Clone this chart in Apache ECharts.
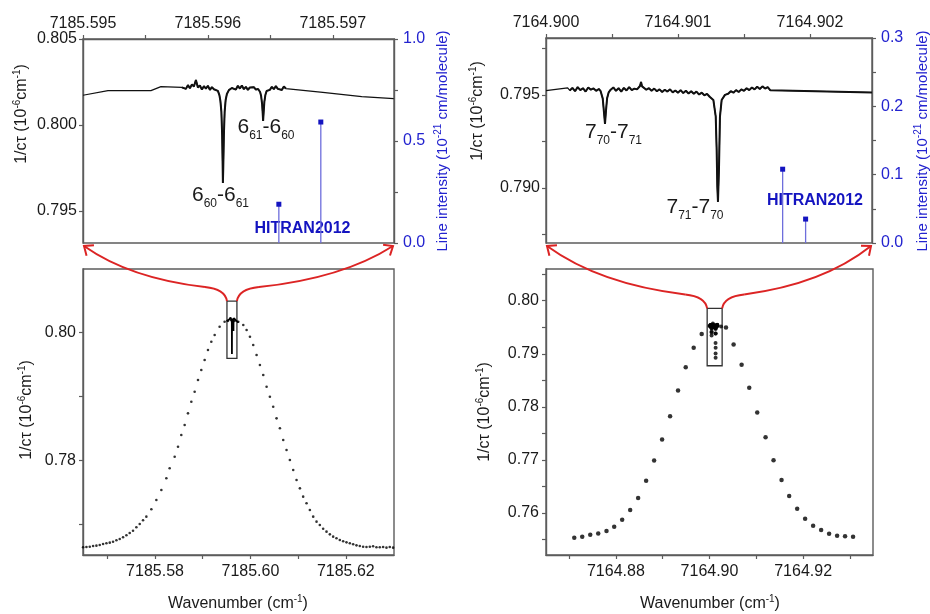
<!DOCTYPE html>
<html><head><meta charset="utf-8">
<script src="https://cdn.jsdelivr.net/npm/echarts@6/dist/echarts.min.js"></script>
<style>html,body{margin:0;padding:0;background:#fff}#c{width:930px;height:614px}</style>
</head><body><div id="c"></div>
<script>
const FONT = '"Liberation Sans", Arial, Helvetica, sans-serif';
const INK = '#111111', FRAME = '#5c5c5c', BLUE = '#2323cf', STICK = '#6e6edc', MARK = '#1414c0', RED = '#dc2424';

// ---------- top-left zoom (7185.596 region) ----------
const tlWave = [7185.595000, 7185.595200, 7185.595544, 7185.595624,
 7185.595792, 7185.595808, 7185.595824, 7185.595840, 7185.595856, 7185.595872, 7185.595888, 7185.595904, 7185.595920, 7185.595936, 7185.595952, 7185.595968, 7185.595984, 7185.596000, 7185.596016, 7185.596032, 7185.596048,
 7185.596056, 7185.596080, 7185.596092, 7185.596100, 7185.596108, 7185.596114, 7185.596118, 7185.596120, 7185.596123, 7185.596128, 7185.596134, 7185.596142, 7185.596152, 7185.596168, 7185.596192,
 7185.596208, 7185.596224, 7185.596240, 7185.596256, 7185.596272, 7185.596288, 7185.596304, 7185.596320, 7185.596336, 7185.596352, 7185.596368, 7185.596384,
 7185.596402, 7185.596418, 7185.596426, 7185.596434, 7185.596439, 7185.596442, 7185.596446, 7185.596452, 7185.596460, 7185.596470, 7185.596482,
 7185.596496, 7185.596512, 7185.596528, 7185.596544, 7185.596560, 7185.596576, 7185.596592, 7185.596608, 7185.596624,
 7185.596920, 7185.597232, 7185.597488];
const tlSignal = [0.80173, 0.80200, 0.80200, 0.80223,
 0.80219, 0.80228, 0.80210, 0.80232, 0.80214, 0.80236, 0.80224, 0.80262, 0.80218, 0.80230, 0.80206, 0.80226, 0.80212, 0.80228, 0.80204, 0.80220, 0.80208,
 0.80215, 0.80198, 0.80174, 0.80140, 0.80076, 0.79942, 0.79767, 0.79663, 0.79750, 0.79942, 0.80076, 0.80145, 0.80180, 0.80203, 0.80215,
 0.80224, 0.80206, 0.80228, 0.80212, 0.80230, 0.80208, 0.80222, 0.80204, 0.80218, 0.80210, 0.80220, 0.80206,
 0.80209, 0.80192, 0.80169, 0.80122, 0.80064, 0.80023, 0.80070, 0.80134, 0.80174, 0.80198, 0.80209,
 0.80204, 0.80222, 0.80208, 0.80226, 0.80210, 0.80220, 0.80204, 0.80224, 0.80212,
 0.80190, 0.80165, 0.80153];
const tlNoisy = [4, 68];   // index range of the high-resolution (noisy) scan
const tlHitranWave = [7185.596568, 7185.596904];
const tlHitranInt = [0.19, 0.593];

// ---------- top-right zoom (7164.901 region) ----------
const trWave = [7164.900000, 7164.900164,
 7164.90018, 7164.90020, 7164.90022, 7164.90024, 7164.90026, 7164.90028, 7164.90030, 7164.90032, 7164.90034, 7164.90036, 7164.90038, 7164.90040,
 7164.900414, 7164.900430, 7164.900440, 7164.900447, 7164.900455, 7164.900463, 7164.900475,
 7164.90049, 7164.90051, 7164.90053, 7164.90055, 7164.90057, 7164.90059, 7164.90061, 7164.90063, 7164.90065, 7164.90067, 7164.90069,
 7164.900712, 7164.900720, 7164.900728,
 7164.90074, 7164.90076, 7164.90078, 7164.90080, 7164.90082, 7164.90084, 7164.90086, 7164.90088, 7164.90090, 7164.90092, 7164.90094, 7164.90096, 7164.90098, 7164.90100, 7164.90102, 7164.90104, 7164.90106, 7164.90108, 7164.90110, 7164.90112, 7164.90114, 7164.90116, 7164.90118, 7164.90120, 7164.90122, 7164.90124,
 7164.901255, 7164.901268, 7164.901286, 7164.901293, 7164.901298, 7164.901303, 7164.901311, 7164.901318, 7164.901331, 7164.901356,
 7164.90138, 7164.90140, 7164.90142, 7164.90144, 7164.90146, 7164.90148, 7164.90150, 7164.90152, 7164.90154, 7164.90156, 7164.90158, 7164.90160, 7164.90162, 7164.90164, 7164.90166, 7164.90168,
 7164.90170, 7164.90247];
const trSignal = [0.79523, 0.79538,
 0.79524, 0.79538, 0.79520, 0.79542, 0.79526, 0.79536, 0.79518, 0.79540, 0.79528, 0.79535, 0.79522, 0.79532,
 0.79520, 0.79480, 0.79400, 0.79344, 0.79420, 0.79482, 0.79514,
 0.79528, 0.79540, 0.79522, 0.79536, 0.79518, 0.79538, 0.79524, 0.79542, 0.79526, 0.79534, 0.79530,
 0.79548, 0.79570, 0.79546,
 0.79540, 0.79528, 0.79536, 0.79522, 0.79534, 0.79520, 0.79530, 0.79516, 0.79528, 0.79518, 0.79530, 0.79514, 0.79524, 0.79512, 0.79526, 0.79510, 0.79522, 0.79508, 0.79520, 0.79506, 0.79518, 0.79502, 0.79512, 0.79498, 0.79506, 0.79490,
 0.79488, 0.79473, 0.79383, 0.79204, 0.79007, 0.78925, 0.79115, 0.79383, 0.79473, 0.79500,
 0.79506, 0.79520, 0.79512, 0.79526, 0.79516, 0.79530, 0.79522, 0.79536, 0.79526, 0.79540, 0.79530, 0.79544, 0.79532, 0.79546, 0.79534, 0.79542,
 0.79525, 0.79513];
const trNoisy = [2, 101];
const trHitranWave = [7164.901793, 7164.901967];
const trHitranInt = [0.108, 0.035];

// ---------- bottom-left full mode (7185.60) ----------
const blWave = [7185.56492, 7185.56562, 7185.56632, 7185.56702, 7185.56771, 7185.56841, 7185.56911, 7185.56981, 7185.57051, 7185.57120,
 7185.57190, 7185.57260, 7185.57330, 7185.57400, 7185.57469, 7185.57539, 7185.57609, 7185.57679, 7185.57749, 7185.57818,
 7185.57923, 7185.58028, 7185.58133, 7185.58237, 7185.58307, 7185.58412, 7185.58482, 7185.58551, 7185.58621, 7185.58691,
 7185.58761, 7185.58831, 7185.58901, 7185.58970, 7185.59040, 7185.59110, 7185.59180, 7185.59250, 7185.59354, 7185.59459,
 7185.59530, 7185.59600, 7185.59670, 7185.59745, 7185.59850, 7185.59920, 7185.59990, 7185.60059, 7185.60129, 7185.60199,
 7185.60269, 7185.60339, 7185.60408, 7185.60478, 7185.60548, 7185.60618, 7185.60688, 7185.60757, 7185.60827, 7185.60897,
 7185.60967, 7185.61037, 7185.61106, 7185.61176, 7185.61246, 7185.61316, 7185.61386, 7185.61455, 7185.61525, 7185.61595,
 7185.61665, 7185.61735, 7185.61804, 7185.61874, 7185.61944, 7185.62014, 7185.62084, 7185.62154, 7185.62223, 7185.62293,
 7185.62363, 7185.62433, 7185.62503, 7185.62572, 7185.62642, 7185.62712, 7185.62782, 7185.62852, 7185.62921, 7185.62991];
const blSignal = [0.76641, 0.76645, 0.76650, 0.76661, 0.76666, 0.76677, 0.76692, 0.76703, 0.76713, 0.76728,
 0.76750, 0.76770, 0.76797, 0.76828, 0.76864, 0.76900, 0.76953, 0.77005, 0.77062, 0.77119,
 0.77234, 0.77380, 0.77536, 0.77719, 0.77875, 0.78056, 0.78213, 0.78395, 0.78552, 0.78734,
 0.78916, 0.79072, 0.79255, 0.79411, 0.79567, 0.79723, 0.79853, 0.79958, 0.80088, 0.80166,
 0.80180, 0.80190, 0.80180, 0.80166, 0.80114, 0.80036, 0.79932, 0.79802, 0.79645, 0.79489,
 0.79333, 0.79150, 0.78994, 0.78838, 0.78656, 0.78500, 0.78317, 0.78161, 0.78005, 0.77848,
 0.77692, 0.77562, 0.77432, 0.77328, 0.77223, 0.77119, 0.77041, 0.76989, 0.76930, 0.76885,
 0.76843, 0.76807, 0.76781, 0.76755, 0.76734, 0.76718, 0.76703, 0.76687, 0.76671, 0.76661,
 0.76650, 0.76645, 0.76650, 0.76656, 0.76640, 0.76640, 0.76645, 0.76635, 0.76645, 0.76635];

// ---------- bottom-right full mode (7164.90) ----------
const brWave = [7164.87111, 7164.87281, 7164.87452, 7164.87623, 7164.87800, 7164.87964, 7164.88134, 7164.88305, 7164.88475, 7164.88646,
 7164.88817, 7164.88987, 7164.89158, 7164.89328, 7164.89492, 7164.89662, 7164.89833,
 7164.90352, 7164.90515, 7164.90686, 7164.90849, 7164.91020, 7164.91198, 7164.91368, 7164.91539, 7164.91702,
 7164.91873, 7164.92043, 7164.92214, 7164.92385, 7164.92555, 7164.92726, 7164.92896, 7164.93067];
const brSignal = [0.75535, 0.75553, 0.75591, 0.75616, 0.75660, 0.75742, 0.75874, 0.76057, 0.76283, 0.76610,
 0.76987, 0.77384, 0.77824, 0.78308, 0.78748, 0.79113, 0.79371,
 0.79497, 0.79176, 0.78792, 0.78358, 0.77893, 0.77428, 0.76994, 0.76623, 0.76321,
 0.76082, 0.75893, 0.75761, 0.75679, 0.75610, 0.75572, 0.75560, 0.75553];

// ---------- axis ranges and ticks ----------
const tlXRange = [7185.595, 7185.59749], tlYRange = [0.79314, 0.805], tlIntRange = [0, 1];
const trXRange = [7164.900, 7164.90247], trYRange = [0.78704, 0.79806], trIntRange = [0, 0.3];
const blXRange = [7185.5649, 7185.6301], blYRange = [0.7652, 0.8099];
const brXRange = [7164.86507, 7164.93493], brYRange = [0.75209, 0.80597];

const tlXTicks = [7185.595, 7185.596, 7185.597], tlXMinor = [7185.5955, 7185.5965];
const tlYTicks = [0.795, 0.800, 0.805];
const tlIntTicks = [0, 0.5, 1.0], tlIntMinor = [0.25, 0.75];
const trXTicks = [7164.900, 7164.901, 7164.902], trXMinor = [7164.9005, 7164.9015];
const trYTicks = [0.790, 0.795], trYMinor = [0.7875, 0.7925, 0.7975];
const trIntTicks = [0, 0.1, 0.2, 0.3], trIntMinor = [0.05, 0.15, 0.25];
const blXTicks = [7185.58, 7185.60, 7185.62], blXMinor = [7185.57, 7185.59, 7185.61];
const blYTicks = [0.78, 0.80], blYMinor = [0.77, 0.79];
const brXTicks = [7164.88, 7164.90, 7164.92], brXMinor = [7164.87, 7164.89, 7164.91, 7164.93];
const brYTicks = [0.76, 0.77, 0.78, 0.79, 0.80], brYMinor = [0.755, 0.765, 0.775, 0.785, 0.795, 0.805];

// zoom boxes drawn in the full-mode panels (data coordinates)
const blBoxX = [7185.59508, 7185.59717], blBoxY = [0.79594, 0.80489];
const brBoxX = [7164.8995, 7164.9027], brBoxY = [0.78774, 0.79855];

// ---------- layout ----------
const G = [
  {left: 83, top: 39, width: 311, height: 204},
  {left: 546, top: 38, width: 326, height: 205},
  {left: 83, top: 269, width: 311, height: 286},
  {left: 546, top: 269, width: 327, height: 286}
];

const zip = (a, b) => a.slice(0, Math.min(a.length, b.length)).map((v, i) => [v, b[i]]);

function valueAxis(o) {
  return {
    type: 'value', gridIndex: o.grid, position: o.pos, min: o.range[0], max: o.range[1],
    axisLine: {show: true, onZero: false, lineStyle: {color: FRAME, width: 1.4}},
    axisTick: {show: true, inside: false, length: 4, customValues: o.major.concat(o.minor || []), lineStyle: {color: FRAME, width: 1.2}},
    axisLabel: {show: true, customValues: o.major, formatter: v => v.toFixed(o.dec), margin: o.margin, fontSize: 16, fontFamily: FONT, color: o.color || '#1a1a1a'},
    splitLine: {show: false}
  };
}

const stickSeries = (xi, yi, wave, inten) => ({
  type: 'custom', xAxisIndex: xi, yAxisIndex: yi, data: zip(wave, inten), z: 5,
  renderItem: (params, api) => {
    const top = api.coord([api.value(0), api.value(1)]);
    const base = api.coord([api.value(0), 0]);
    return {type: 'group', children: [
      {type: 'line', shape: {x1: top[0], y1: top[1], x2: base[0], y2: base[1]}, style: {stroke: STICK, lineWidth: 1.3}},
      {type: 'rect', shape: {x: top[0] - 2.5, y: top[1] - 2.5, width: 5, height: 5}, style: {fill: MARK}}
    ]};
  }
});

const boxArea = (bx, by) => ({
  silent: true,
  itemStyle: {color: 'rgba(0,0,0,0)', borderColor: '#333', borderWidth: 1.3},
  label: {show: false},
  data: [[{coord: [bx[0], by[1]]}, {coord: [bx[1], by[0]]}]]
});

const option = {
  animation: false,
  backgroundColor: '#fff',
  grid: G.map(g => Object.assign({show: true, borderColor: FRAME, borderWidth: 1.4, backgroundColor: 'transparent'}, g)),
  xAxis: [
    valueAxis({grid: 0, pos: 'top', range: tlXRange, major: tlXTicks, minor: tlXMinor, dec: 3, margin: 7}),
    valueAxis({grid: 1, pos: 'top', range: trXRange, major: trXTicks, minor: trXMinor, dec: 3, margin: 7}),
    valueAxis({grid: 2, pos: 'bottom', range: blXRange, major: blXTicks, minor: blXMinor, dec: 2, margin: 9}),
    valueAxis({grid: 3, pos: 'bottom', range: brXRange, major: brXTicks, minor: brXMinor, dec: 2, margin: 9})
  ],
  yAxis: [
    valueAxis({grid: 0, pos: 'left', range: tlYRange, major: tlYTicks, dec: 3, margin: 6}),
    valueAxis({grid: 0, pos: 'right', range: tlIntRange, major: tlIntTicks, minor: tlIntMinor, dec: 1, margin: 9, color: BLUE}),
    valueAxis({grid: 1, pos: 'left', range: trYRange, major: trYTicks, minor: trYMinor, dec: 3, margin: 6}),
    valueAxis({grid: 1, pos: 'right', range: trIntRange, major: trIntTicks, minor: trIntMinor, dec: 1, margin: 9, color: BLUE}),
    valueAxis({grid: 2, pos: 'left', range: blYRange, major: blYTicks, minor: blYMinor, dec: 2, margin: 7}),
    valueAxis({grid: 3, pos: 'left', range: brYRange, major: brYTicks, minor: brYMinor, dec: 2, margin: 7})
  ],
  series: [
    {type: 'line', xAxisIndex: 0, yAxisIndex: 0, data: zip(tlWave, tlSignal), showSymbol: false, lineStyle: {color: INK, width: 1.2}, z: 3},
    {type: 'line', xAxisIndex: 0, yAxisIndex: 0, data: zip(tlWave, tlSignal).slice(tlNoisy[0], tlNoisy[1]), showSymbol: false, lineStyle: {color: INK, width: 2}, z: 3},
    stickSeries(0, 1, tlHitranWave, tlHitranInt),
    {type: 'line', xAxisIndex: 1, yAxisIndex: 2, data: zip(trWave, trSignal), showSymbol: false, lineStyle: {color: INK, width: 1.2}, z: 3},
    {type: 'line', xAxisIndex: 1, yAxisIndex: 2, data: zip(trWave, trSignal).slice(trNoisy[0], trNoisy[1]), showSymbol: false, lineStyle: {color: INK, width: 2}, z: 3},
    stickSeries(1, 3, trHitranWave, trHitranInt),
    {type: 'scatter', xAxisIndex: 2, yAxisIndex: 4, data: zip(blWave, blSignal), symbol: 'circle', symbolSize: 2.6, itemStyle: {color: '#000'}, markArea: boxArea(blBoxX, blBoxY)},
    {type: 'line', xAxisIndex: 2, yAxisIndex: 4, data: zip(tlWave, tlSignal), showSymbol: false, lineStyle: {color: '#000', width: 1.8}},
    {type: 'scatter', xAxisIndex: 3, yAxisIndex: 5, data: zip(brWave, brSignal), symbol: 'circle', symbolSize: 4.5, itemStyle: {color: '#000'}, markArea: boxArea(brBoxX, brBoxY)},
    {type: 'scatter', xAxisIndex: 3, yAxisIndex: 5, data: zip(trWave, trSignal), symbol: 'circle', symbolSize: 4, itemStyle: {color: '#000'}}
  ]
};

const chart = echarts.init(document.getElementById('c'), null, {renderer: 'canvas'});
chart.setOption(option);

// ---------- annotations ----------
const mctx = document.createElement('canvas').getContext('2d');
function tw(t, size, weight) { mctx.font = (weight || 'normal') + ' ' + size + 'px ' + FONT; return mctx.measureText(t).width; }
function textGroup(segs, cx, cy, opt) {
  const weight = opt.weight || 'normal';
  const widths = segs.map(s => tw(s[0], s[1], weight));
  const total = widths.reduce((a, b) => a + b, 0);
  let x = -total / 2;
  const children = segs.map((s, i) => {
    const el = {type: 'text', x: x, y: s[2] || 0, style: {text: s[0], fontSize: s[1], fontFamily: FONT, fontWeight: weight, fill: opt.color, align: 'left', verticalAlign: 'middle'}};
    x += widths[i];
    return el;
  });
  return {type: 'group', x: cx, y: cy, rotation: opt.rotation || 0, children: children, z: 100};
}

const SUB = 8.5, SUP = -5;
const yTitle = [['1/c\u03c4 (10', 16], ['-6', 10, SUP], ['cm', 16], ['-1', 10, SUP], [')', 16]];
const xTitle = [['Wavenumber (cm', 16], ['-1', 10, SUP], [')', 16]];
const rTitle = [['Line intensity (10', 15], ['-21', 10, SUP], [' cm/molecule)', 15]];
const lab = (a, b, c, d) => [[a, 21], [b, 12, SUB], [c, 21], [d, 12, SUB]];

const graphics = [
  textGroup(yTitle, 22, 114, {color: '#1a1a1a', rotation: Math.PI / 2}),
  textGroup(yTitle, 478, 111, {color: '#1a1a1a', rotation: Math.PI / 2}),
  textGroup(yTitle, 27, 410, {color: '#1a1a1a', rotation: Math.PI / 2}),
  textGroup(yTitle, 485, 412, {color: '#1a1a1a', rotation: Math.PI / 2}),
  textGroup(rTitle, 443, 141, {color: BLUE, rotation: Math.PI / 2}),
  textGroup(rTitle, 923, 141, {color: BLUE, rotation: Math.PI / 2}),
  textGroup(xTitle, 238, 604, {color: '#1a1a1a'}),
  textGroup(xTitle, 710, 604, {color: '#1a1a1a'}),
  textGroup(lab('6', '60', '-6', '61'), 220.5, 195.5, {color: '#1a1a1a'}),
  textGroup(lab('6', '61', '-6', '60'), 266, 127.5, {color: '#1a1a1a'}),
  textGroup(lab('7', '70', '-7', '71'), 613.5, 132.5, {color: '#1a1a1a'}),
  textGroup(lab('7', '71', '-7', '70'), 695, 207.5, {color: '#1a1a1a'}),
  textGroup([['HITRAN2012', 16]], 302.5, 229, {color: MARK, weight: 'bold'}),
  textGroup([['HITRAN2012', 16]], 815, 201, {color: MARK, weight: 'bold'})
];

function arrow(S, E, side) {
  const M = [S[0] + side * 22, S[1] - 14];
  const C1 = [S[0] + side * 2, S[1] - 12];
  const C2 = [E[0] + (M[0] - E[0]) * 0.38, M[1] - (M[1] - E[1]) * 0.21];
  const st = {stroke: RED, lineWidth: 2, fill: 'none'};
  let dx = C2[0] - E[0], dy = C2[1] - E[1];
  const L = Math.hypot(dx, dy); dx /= L; dy /= L;
  const a = 40 * Math.PI / 180, len = 10;
  const r = ang => [E[0] + len * (dx * Math.cos(ang) - dy * Math.sin(ang)), E[1] + len * (dx * Math.sin(ang) + dy * Math.cos(ang))];
  return [
    {type: 'bezierCurve', z: 90, shape: {x1: S[0], y1: S[1], x2: M[0], y2: M[1], cpx1: C1[0], cpy1: C1[1]}, style: st},
    {type: 'bezierCurve', z: 90, shape: {x1: M[0], y1: M[1], x2: E[0], y2: E[1], cpx1: C2[0], cpy1: C2[1]}, style: st},
    {type: 'polyline', z: 90, shape: {points: [r(a), E, r(-a)]}, style: st}
  ];
}
function arrowsFor(gridIdx, topIdx, bx, by) {
  const tl = chart.convertToPixel({gridIndex: gridIdx}, [bx[0], by[1]]);
  const tr = chart.convertToPixel({gridIndex: gridIdx}, [bx[1], by[1]]);
  const g = G[topIdx];
  const yb = g.top + g.height + 3;
  return arrow(tl, [g.left + 1, yb], -1).concat(arrow(tr, [g.left + g.width - 1, yb], 1));
}
graphics.push(...arrowsFor(2, 0, blBoxX, blBoxY), ...arrowsFor(3, 1, brBoxX, brBoxY));
chart.setOption({graphic: graphics});
</script>
</body></html>
